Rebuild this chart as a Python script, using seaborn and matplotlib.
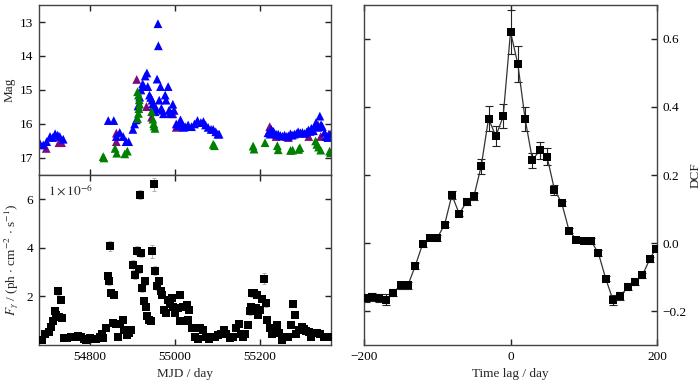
import numpy as np
import pandas as pd
import matplotlib
matplotlib.use("Agg")
import matplotlib.pyplot as plt
import seaborn as sns

# ---- optical light curve (Mag) ----
blue_mjd = [54682, 54690, 54698, 54706, 54712, 54718, 54724, 54729, 54737,
            54843, 54856, 54862, 54870, 54878, 54885, 54891,
            54901, 54905, 54909, 54913, 54917, 54920, 54924, 54927, 54930, 54934,
            54936, 54940, 54943, 54946, 54948, 54950, 54953, 54956, 54958, 54960,
            54961, 54963, 54966, 54968, 54970, 54973, 54977, 54979, 54984, 54986,
            54989, 54992, 54995, 54998, 55003, 55008, 55013, 55017, 55020,
            55024, 55031, 55039, 55046, 55053, 55061, 55067, 55072, 55078, 55085,
            55090, 55096, 55101, 55104,
            55219, 55224, 55227, 55232, 55238, 55243, 55248, 55253, 55258, 55263,
            55267, 55272, 55276, 55281, 55286, 55290, 55295, 55300, 55305, 55310,
            55314, 55318, 55321, 55326, 55329, 55332, 55336, 55341, 55344, 55347,
            55352, 55356, 55360, 55365]
blue_mag = [16.57, 16.62, 16.52, 16.37, 16.40, 16.29, 16.33, 16.37, 16.45,
            15.90, 15.90, 16.37, 16.25, 16.37, 16.52, 16.52,
            16.16, 16.00, 15.88, 15.47, 15.21, 15.00, 14.82, 14.90, 14.59, 14.50,
            14.90, 15.15, 15.22, 15.30, 15.40, 15.47, 15.64, 15.55, 14.68, 13.05,
            13.70, 15.30, 14.90, 15.54, 15.60, 15.70, 15.15, 15.30, 14.90, 15.60,
            15.68, 15.70, 15.42, 15.60, 16.00, 16.05, 15.88, 16.00, 16.10,
            16.08, 16.03, 16.08, 16.00, 15.90, 15.96, 15.93, 16.03, 16.10, 16.16,
            16.16, 16.23, 16.30, 16.30,
            16.26, 16.30, 16.16, 16.22, 16.30, 16.30, 16.34, 16.36, 16.33, 16.37,
            16.35, 16.29, 16.33, 16.30, 16.28, 16.23, 16.26, 16.25, 16.28, 16.24,
            16.18, 16.22, 16.13, 16.20, 16.08, 15.96, 16.10, 15.77, 16.02, 16.08,
            16.25, 16.37, 16.40, 16.30]
purple_mjd = [54697, 54727, 54733, 54862, 54862, 54910, 54933, 54945, 54995,
              55003, 55223, 55238, 55267, 55315, 55337, 55343, 55362]
purple_mag = [16.72, 16.55, 16.55, 16.27, 16.52, 14.69, 15.49, 15.80, 15.70,
              16.10, 16.08, 16.37, 16.40, 16.37, 16.03, 16.37, 16.30]
green_mjd = [54831, 54833, 54859, 54863, 54882, 54888,
             54912, 54914, 54916, 54917, 54915, 54914, 54912, 54945, 54948,
             54950, 54951, 54953, 55090, 55093, 55184, 55186, 55212, 55241,
             55243, 55272, 55277, 55291, 55294, 55331, 55334, 55338, 55343,
             55364, 55366]
green_mag = [16.96, 17.00, 16.72, 16.86, 16.88, 16.80,
             15.05, 15.15, 15.29, 15.42, 15.55, 15.69, 15.84, 15.64, 15.86,
             15.99, 16.06, 16.13, 16.60, 16.64, 16.65, 16.74, 16.55, 16.64,
             16.76, 16.78, 16.77, 16.75, 16.70, 16.50, 16.60, 16.68, 16.77,
             16.80, 16.85]

# ---- gamma-ray light curve (1e-6 ph cm^-2 s^-1) ----
flux_mjd = [54687, 54695, 54703, 54709, 54714, 54718, 54720, 54724, 54728, 54731,
            54734, 54739, 54747, 54756, 54764, 54771, 54778, 54786, 54791, 54799,
            54807, 54815, 54823, 54828, 54830, 54838, 54842, 54845, 54848, 54850,
            54857, 54854, 54862, 54866, 54870, 54878, 54880, 54886, 54891, 54897,
            54901, 54907, 54910, 54915, 54917, 54919, 54922, 54926, 54929, 54933,
            54935, 54939, 54943, 54947, 54951, 54953, 54957, 54962, 54966, 54970,
            54975, 54979, 54984, 54988, 54992, 54996, 55000, 55006, 55012, 55013,
            55019, 55022, 55026, 55028, 55033, 55030, 55039, 55047, 55054, 55058,
            55066, 55072, 55079, 55087, 55095, 55101, 55109, 55115, 55121, 55129,
            55137, 55144, 55150, 55155, 55160, 55164, 55171, 55176, 55179, 55182,
            55187, 55190, 55192, 55196, 55200, 55206, 55210, 55214, 55216, 55224,
            55228, 55234, 55240, 55245, 55252, 55258, 55266, 55274, 55277, 55282,
            55285, 55292, 55298, 55303, 55309, 55315, 55321, 55327, 55335, 55342,
            55350, 55358, 55366]
flux_val = [0.19, 0.45, 0.55, 0.76, 0.97, 1.38, 1.24, 2.22, 1.14, 1.86,
            1.12, 0.28, 0.28, 0.35, 0.35, 0.39, 0.33, 0.26, 0.21, 0.28,
            0.24, 0.26, 0.31, 0.45, 0.28, 0.72, 2.82, 2.64, 4.07, 2.14,
            2.07, 0.89, 0.87, 0.35, 0.85, 1.03, 0.62, 0.41, 0.48, 0.62,
            3.30, 2.89, 3.88, 3.13, 6.19, 3.79, 2.35, 1.83, 2.64, 1.55,
            1.20, 1.03, 0.97, 3.85, 6.61, 3.06, 2.41, 2.64, 2.24, 2.07,
            1.45, 1.31, 1.86, 1.68, 1.93, 1.55, 1.31, 1.51, 1.00, 2.04,
            1.55, 1.55, 1.00, 1.66, 1.45, 1.03, 0.68, 0.31, 0.26, 0.72,
            0.60, 0.35, 0.26, 0.35, 0.35, 0.41, 0.45, 0.62, 0.45, 0.28,
            0.35, 0.68, 0.85, 0.45, 0.31, 0.45, 0.83, 1.38, 1.55, 2.14,
            2.14, 1.51, 2.07, 1.24, 1.45, 1.90, 2.73, 1.73, 1.03, 0.68,
            0.45, 0.55, 0.83, 0.48, 0.21, 0.31, 0.35, 0.83, 1.70, 1.24,
            0.45, 0.62, 0.76, 0.65, 0.58, 0.55, 0.31, 0.48, 0.48, 0.45,
            0.31, 0.35, 0.35]
flux_err = [0.05, 0.05, 0.05, 0.06, 0.08, 0.10, 0.10, 0.15, 0.10, 0.12,
            0.10, 0.04, 0.04, 0.05, 0.05, 0.05, 0.05, 0.04, 0.04, 0.04,
            0.04, 0.04, 0.05, 0.05, 0.04, 0.06, 0.20, 0.18, 0.22, 0.12,
            0.12, 0.08, 0.08, 0.05, 0.08, 0.08, 0.06, 0.05, 0.05, 0.06,
            0.20, 0.18, 0.18, 0.18, 0.20, 0.18, 0.15, 0.12, 0.15, 0.10,
            0.10, 0.08, 0.08, 0.25, 0.28, 0.18, 0.15, 0.15, 0.15, 0.12,
            0.10, 0.10, 0.12, 0.10, 0.12, 0.10, 0.10, 0.10, 0.08, 0.12,
            0.10, 0.10, 0.08, 0.12, 0.10, 0.08, 0.06, 0.05, 0.04, 0.08,
            0.06, 0.05, 0.04, 0.05, 0.05, 0.05, 0.05, 0.08, 0.06, 0.04,
            0.05, 0.06, 0.08, 0.05, 0.05, 0.05, 0.08, 0.15, 0.15, 0.15,
            0.15, 0.12, 0.15, 0.10, 0.15, 0.15, 0.22, 0.15, 0.08, 0.06,
            0.05, 0.05, 0.08, 0.05, 0.04, 0.05, 0.05, 0.08, 0.15, 0.10,
            0.05, 0.06, 0.06, 0.06, 0.05, 0.05, 0.04, 0.05, 0.05, 0.05,
            0.04, 0.05, 0.05]

# ---- DCF ----
lag = [-197, -189, -180, -170, -160, -150, -140, -130, -120, -110, -100,
       -90, -80, -70, -60, -50, -40, -30, -20, -10, 0,
       10, 20, 30, 40, 50, 60, 70, 80, 90, 100,
       110, 120, 130, 140, 150, 160, 170, 180, 190, 198]
dcf = [-0.161, -0.159, -0.162, -0.167, -0.146, -0.124, -0.124, -0.067, -0.003, 0.016, 0.015,
       0.054, 0.141, 0.086, 0.121, 0.137, 0.226, 0.366, 0.314, 0.373, 0.621,
       0.526, 0.364, 0.244, 0.273, 0.253, 0.157, 0.117, 0.036, 0.010, 0.007,
       0.006, -0.030, -0.105, -0.168, -0.157, -0.129, -0.114, -0.095, -0.048, -0.017]
dcf_err = [0.012, 0.012, 0.012, 0.016, 0.010, 0.010, 0.010, 0.008, 0.008, 0.008, 0.008,
           0.008, 0.012, 0.008, 0.010, 0.010, 0.022, 0.037, 0.030, 0.035, 0.065,
           0.052, 0.035, 0.022, 0.025, 0.025, 0.015, 0.008, 0.008, 0.008, 0.008,
           0.008, 0.008, 0.008, 0.015, 0.012, 0.010, 0.010, 0.008, 0.008, 0.008]

sns.set_style("ticks")
plt.rcParams['font.family'] = ['Liberation Serif', 'DejaVu Serif']
plt.rcParams['mathtext.fontset'] = 'stix'
plt.rcParams['font.size'] = 9.5
plt.rcParams['axes.linewidth'] = 1.0

fig = plt.figure(figsize=(7.0, 3.87), dpi=100)
ax1 = fig.add_axes([0.0557, 0.548, 0.417, 0.439])
ax2 = fig.add_axes([0.0557, 0.1085, 0.417, 0.4395])
ax3 = fig.add_axes([0.52, 0.1085, 0.4186, 0.8786])

for ax in (ax1, ax2, ax3):
    ax.tick_params(direction='in', top=True, right=True, length=4, width=1,
                   labelsize=9.5, colors='#222222', labelcolor='black', pad=4)
    for s in ax.spines.values():
        s.set_color('#444444')

# top-left: optical magnitudes
opt = pd.concat([
    pd.DataFrame({'mjd': purple_mjd, 'mag': purple_mag, 'band': 'p'}),
    pd.DataFrame({'mjd': blue_mjd, 'mag': blue_mag, 'band': 'b'}),
    pd.DataFrame({'mjd': green_mjd, 'mag': green_mag, 'band': 'g'}),
])
sns.scatterplot(data=opt, x='mjd', y='mag', hue='band', marker='^', s=40,
                palette={'p': '#800a7a', 'b': '#0000ff', 'g': '#008000'},
                linewidth=0, legend=False, ax=ax1)
ax1.set_xlim(54680, 55367)
ax1.set_ylim(17.5, 12.5)
ax1.set_yticks([13, 14, 15, 16, 17])
ax1.set_xticks([54800, 55000, 55200])
ax1.set_xticklabels([])
ax1.set_xlabel('')
ax1.set_ylabel('Mag', labelpad=3)

# bottom-left: gamma-ray flux
ax2.errorbar(flux_mjd, flux_val, yerr=flux_err, fmt='none', ecolor='#b0b0b0',
             elinewidth=0.7, capsize=1.2, capthick=0.7)
sns.scatterplot(x=flux_mjd, y=flux_val, marker='s', s=28, color='black',
                linewidth=0, ax=ax2, zorder=3)
ax2.set_xlim(54680, 55367)
ax2.set_ylim(0, 7)
ax2.set_yticks([2, 4, 6])
ax2.set_xticks([54800, 55000, 55200])
ax2.set_xticklabels(['54800', '55000', '55200'])
ax2.set_xlabel('MJD / day')
ax2.set_ylabel(r'$F_\gamma$ / (ph $\cdot$ cm$^{-2}$ $\cdot$ s$^{-1}$)', labelpad=4)
ax2.text(0.03, 0.95, r'$1\times10^{-6}$', transform=ax2.transAxes,
         ha='left', va='top', fontsize=9.5)

# right: DCF
ax3.errorbar(lag, dcf, yerr=dcf_err, fmt='none', ecolor='#222222',
             elinewidth=0.8, capsize=3, capthick=0.8)
sns.lineplot(x=lag, y=dcf, color='#333333', linewidth=0.9, ax=ax3)
sns.scatterplot(x=lag, y=dcf, marker='s', s=34, color='black', linewidth=0,
                ax=ax3, zorder=3)
ax3.set_xlim(-200, 200)
ax3.set_ylim(-0.3, 0.7)
ax3.set_xticks([-200, 0, 200])
ax3.set_xticklabels(['\u2212200', '0', '200'])
ax3.set_yticks([-0.2, 0.0, 0.2, 0.4, 0.6])
ax3.set_yticklabels(['\u22120.2', '0.0', '0.2', '0.4', '0.6'])
ax3.yaxis.tick_right()
ax3.tick_params(left=True, right=True, labelleft=False, labelright=True)
ax3.yaxis.set_label_position('right')
ax3.set_ylabel('DCF', labelpad=2)
ax3.set_xlabel('Time lag / day')

fig.savefig('out.png', dpi=100)
